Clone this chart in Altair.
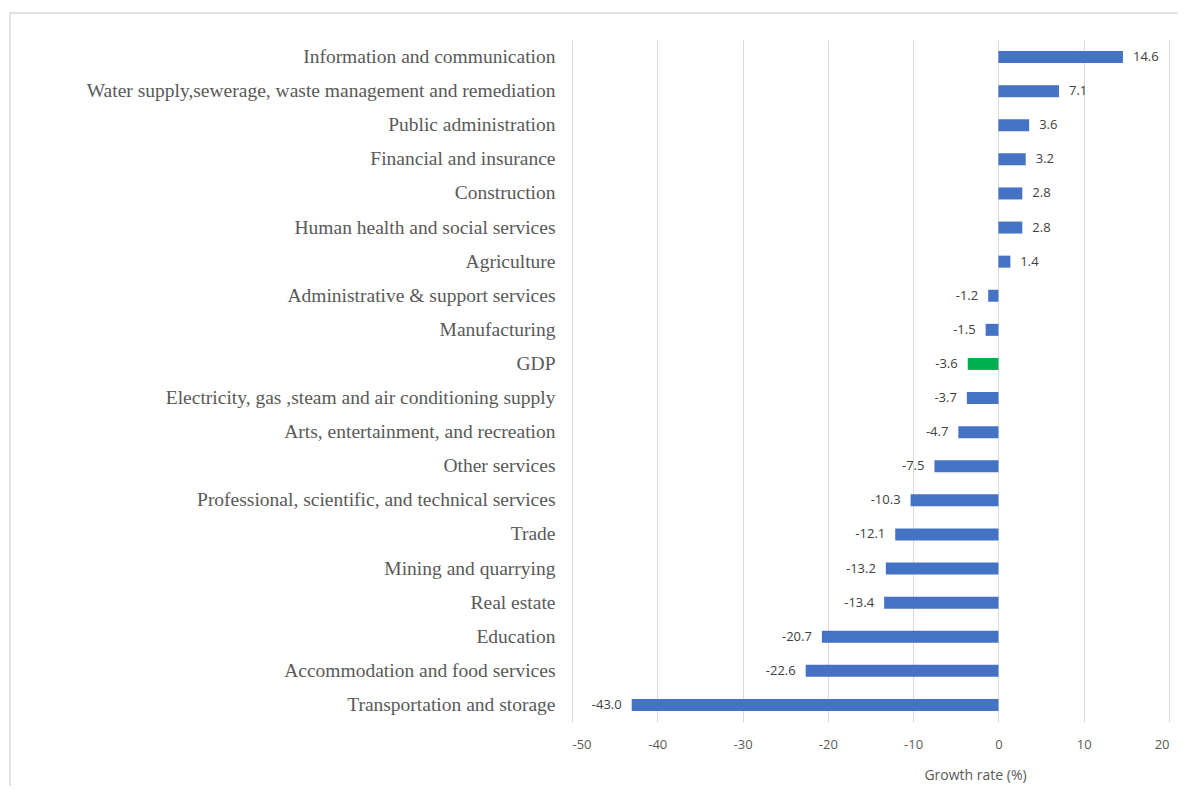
import altair as alt
import pandas as pd

sectors = [
    "Information and communication",
    "Water supply,sewerage, waste management and remediation",
    "Public administration",
    "Financial and insurance",
    "Construction",
    "Human health and social services",
    "Agriculture",
    "Administrative & support services",
    "Manufacturing",
    "GDP ",
    "Electricity, gas ,steam and air conditioning supply",
    "Arts, entertainment, and recreation",
    "Other services",
    "Professional, scientific, and technical services",
    "Trade",
    "Mining and quarrying",
    "Real estate",
    "Education",
    "Accommodation and food services",
    "Transportation and storage",
]
growth = [14.6, 7.1, 3.6, 3.2, 2.8, 2.8, 1.4, -1.2, -1.5, -3.6, -3.7, -4.7,
          -7.5, -10.3, -12.1, -13.2, -13.4, -20.7, -22.6, -43.0]
kind = ["GDP" if s.strip() == "GDP" else "Sector" for s in sectors]

df = pd.DataFrame({"sector": sectors, "growth": growth, "kind": kind})
df["label"] = df["growth"].map(lambda v: f"{v:.1f}")

W, H = 597, 682
PAD_L, PAD_T = 564, 32
TOTAL_W, TOTAL_H = 1170, 778

y_enc = alt.Y("sector:N", sort=sectors, title=None,
              axis=alt.Axis(labelFont="Liberation Serif", labelFontSize=19.5,
                            labelColor="#595959", labelPadding=17, ticks=False,
                            domain=False, grid=False, labelLimit=600))
x_scale = alt.Scale(domain=[-50, 20], nice=False, zero=False)

bars = alt.Chart(df).mark_bar(size=12).encode(
    x=alt.X("growth:Q", scale=x_scale, title="Growth rate (%)",
            axis=alt.Axis(values=list(range(-50, 21, 10)), grid=True,
                          gridColor="#d9d9d9", gridWidth=1, domain=False,
                          ticks=False, labelFont="Open Sans", labelFontSize=13,
                          labelColor="#595959", labelPadding=16,
                          labelExpr="'' + datum.value",
                          titleFont="Open Sans", titleFontSize=14,
                          titleFontWeight="normal", titleColor="#595959",
                          titleX=403, titleY=53, titleAlign="center",
                          titleBaseline="middle")),
    x2=alt.datum(0),
    y=y_enc,
    color=alt.Color("kind:N", scale=alt.Scale(domain=["Sector", "GDP"],
                                               range=["#4472C4", "#00B050"]),
                    legend=None),
)

pos_labels = alt.Chart(df).transform_filter("datum.growth >= 0").mark_text(
    align="left", baseline="middle", dx=10, font="Open Sans", fontSize=13,
    color="#404040").encode(
    x=alt.X("growth:Q", scale=x_scale), y=alt.Y("sector:N", sort=sectors),
    text="label:N")

neg_labels = alt.Chart(df).transform_filter("datum.growth < 0").mark_text(
    align="right", baseline="middle", dx=-10, font="Open Sans", fontSize=13,
    color="#404040").encode(
    x=alt.X("growth:Q", scale=x_scale), y=alt.Y("sector:N", sort=sectors),
    text="label:N")

frame = alt.Chart(pd.DataFrame({"a": [0]})).mark_rect(
    fill=None, stroke="#d9d9d9", strokeWidth=1.5, clip=False).encode(
    x=alt.value(-562), x2=alt.value(640), y=alt.value(-27), y2=alt.value(800))

chart = alt.layer(frame, bars, pos_labels, neg_labels).properties(
    width=W, height=H,
    background="white",
    autosize=alt.AutoSizeParams(type="none"),
    padding={"left": PAD_L, "top": PAD_T,
             "right": TOTAL_W - PAD_L - W, "bottom": TOTAL_H - PAD_T - H},
).configure_view(strokeWidth=0, stroke="transparent")

chart.save("out.html", embed_options={"renderer": "svg", "actions": False})
